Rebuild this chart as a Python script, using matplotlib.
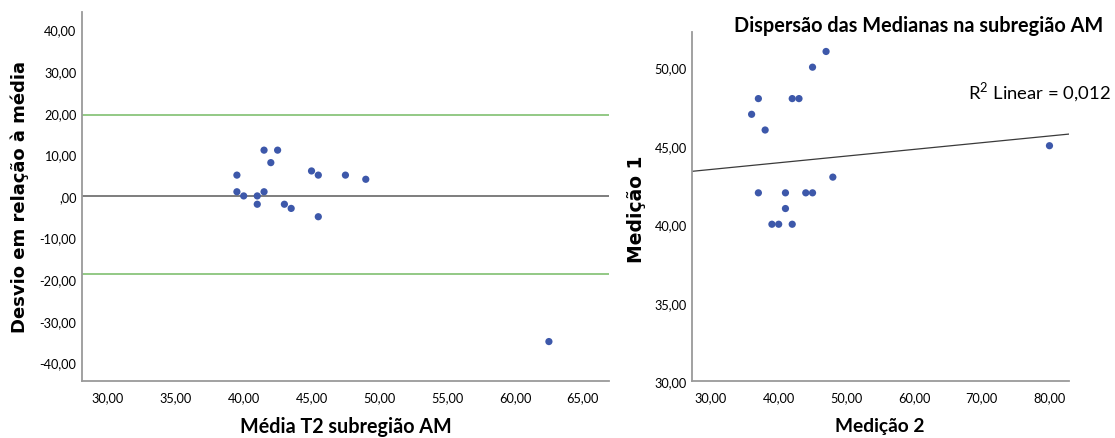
import numpy as np
import matplotlib
matplotlib.use("Agg")
import matplotlib.pyplot as plt
from matplotlib.ticker import FixedLocator, FuncFormatter

plt.rcParams['font.family'] = ['Lato', 'DejaVu Sans']
plt.rcParams['mathtext.fontset'] = 'custom'
plt.rcParams['mathtext.rm'] = 'Lato'

# Data: pairs of measurements (Medição 2, Medição 1)
medicao2 = [36, 37, 38, 42, 43, 45, 47, 80, 48, 37, 41, 44, 45, 41, 39, 40, 42]
medicao1 = [47, 48, 46, 48, 48, 50, 51, 45, 43, 42, 42, 42, 42, 41, 40, 40, 40]

# Bland-Altman: mean of both and deviation (M1 - M2)
media_t2 = [(a + b) / 2 for a, b in zip(medicao1, medicao2)]
desvio = [a - b for a, b in zip(medicao1, medicao2)]

# Reference lines
linha_zero = 0.0
limite_sup = 19.5
limite_inf = -18.75

# Linear fit line (Medição 1 = a + b * Medição 2)
fit_intercept = 42.21
fit_slope = 0.0426
r2_label = "0,012"

left_xticks = [30, 35, 40, 45, 50, 55, 60, 65]
left_yticks = [-40, -30, -20, -10, 0, 10, 20, 30, 40]
right_xticks = [30, 40, 50, 60, 70, 80]
right_yticks = [30, 35, 40, 45, 50]


def fmt(v, pos=None):
    s = f"{v:.2f}".replace('.', ',')
    if s.startswith('0,'):
        s = s[1:]
    if s.startswith('-0,'):
        s = s[2:]
    return s


W, H = 1115, 439
fig = plt.figure(figsize=(W / 100, H / 100), dpi=100)

dot_color = '#3d58aa'
spine_color = '#9a9a9a'


def style(ax):
    for s in ['top', 'right']:
        ax.spines[s].set_visible(False)
    for s in ['left', 'bottom']:
        ax.spines[s].set_color(spine_color)
        ax.spines[s].set_linewidth(1.3)
    ax.tick_params(length=0)
    ax.tick_params(axis='x', pad=7)
    ax.tick_params(axis='y', pad=4)
    ax.xaxis.set_major_formatter(FuncFormatter(fmt))
    ax.yaxis.set_major_formatter(FuncFormatter(fmt))
    for lab in ax.get_xticklabels() + ax.get_yticklabels():
        lab.set_fontsize(9.2)


# Left: Bland-Altman
ax1 = fig.add_axes([82 / W, 1 - 382.3 / H, 527 / W, 369.3 / H])
ax1.set_xlim(28.08, 66.93)
ax1.set_ylim(-44.55, 44.2)
ax1.xaxis.set_major_locator(FixedLocator(left_xticks))
ax1.yaxis.set_major_locator(FixedLocator(left_yticks))
ax1.axhline(limite_sup, color='#93c985', lw=1.4, zorder=1)
ax1.axhline(limite_inf, color='#93c985', lw=1.4, zorder=1)
ax1.axhline(linha_zero, color='#5a5a5a', lw=1.1, zorder=1)
ax1.scatter(media_t2, desvio, s=27, color=dot_color, edgecolors='none', zorder=3)
style(ax1)

# Right: scatter with regression
ax2 = fig.add_axes([692.3 / W, 1 - 382.3 / H, 376.4 / W, 349.3 / H])
ax2.set_xlim(27.24, 82.84)
ax2.set_ylim(30.0, 52.24)
ax2.xaxis.set_major_locator(FixedLocator(right_xticks))
ax2.yaxis.set_major_locator(FixedLocator(right_yticks))
xl = np.array(ax2.get_xlim())
ax2.plot(xl, fit_intercept + fit_slope * xl, color='#3a3a3a', lw=0.9, zorder=2)
ax2.scatter(medicao2, medicao1, s=27, color=dot_color, edgecolors='none', zorder=3, clip_on=False)
style(ax2)

# Labels
fig.text(20 / W, 1 - 197 / H, "Desvio em relação à média", rotation=90,
         ha='center', va='center', family='DejaVu Sans', weight='bold', fontsize=13)
fig.text(345.5 / W, 1 - 427 / H, "Média T2 subregião AM", ha='center', va='center',
         weight='bold', fontsize=14.2)
fig.text(880 / W, 1 - 427 / H, "Medição 2", ha='center', va='center',
         weight='bold', fontsize=13.8)
fig.text(637 / W, 1 - 209 / H, "Medição 1", rotation=90, ha='center', va='center',
         family='DejaVu Sans', weight='bold', fontsize=13.5)
fig.text(918.5 / W, 1 - 32 / H, "Dispersão das Medianas na subregião AM",
         ha='center', va='baseline', weight='bold', fontsize=14.3)
fig.text(1111 / W, 1 - 99 / H, r"R$^{2}$ Linear = " + r2_label,
         ha='right', va='baseline', fontsize=13.3)

fig.savefig("out.png", dpi=100)
